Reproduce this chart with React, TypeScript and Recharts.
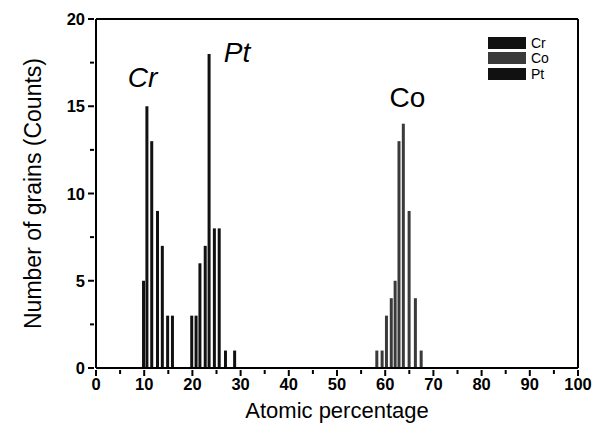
import React from 'react';
import { BarChart, Bar, XAxis, YAxis, ReferenceLine, ReferenceDot, Legend } from 'recharts';

const crPercent = [9.9, 10.6, 11.6, 12.8, 13.8, 14.9, 15.9];
const crCounts = [5, 15, 13, 9, 7, 3, 3];
const ptPercent = [19.9, 20.8, 21.6, 22.7, 23.5, 24.6, 25.6, 26.9, 28.8];
const ptCounts = [3, 3, 6, 7, 18, 8, 8, 1, 1];
const coPercent = [58.3, 59.4, 60.3, 61.3, 62.1, 62.9, 63.8, 65.0, 66.3, 67.5];
const coCounts = [1, 1, 3, 4, 5, 13, 14, 9, 4, 1];

const xTicks = [0, 5, 10, 15, 20, 25, 30, 35, 40, 45, 50, 55, 60, 65, 70, 75, 80, 85, 90, 95, 100];
const yTicks = [0, 2.5, 5, 7.5, 10, 12.5, 15, 17.5, 20];

const series = [
  { key: 'cr', name: 'Cr', color: '#111111' },
  { key: 'co', name: 'Co', color: '#3a3a3a' },
  { key: 'pt', name: 'Pt', color: '#111111' },
];

const data = [
  ...crPercent.map((x, i) => ({ x, cr: crCounts[i] })),
  ...ptPercent.map((x, i) => ({ x, pt: ptCounts[i] })),
  ...coPercent.map((x, i) => ({ x, co: coCounts[i] })),
].sort((a, b) => a.x - b.x);

const font = '"Liberation Sans", Arial, sans-serif';

const XTick = (props: any) => {
  const { x, y, payload } = props;
  const major = payload.value % 10 === 0;
  return (
    <g>
      <line x1={x} y1={y} x2={x} y2={y + (major ? 6 : 4)} stroke="#000" strokeWidth={2} />
      {major && (
        <text x={x} y={y + 20} textAnchor="middle" fontSize={16.5} fontWeight="bold" fontFamily={font} fill="#000">
          {payload.value}
        </text>
      )}
    </g>
  );
};

const YTick = (props: any) => {
  const { x, y, payload } = props;
  const major = payload.value % 5 === 0;
  return (
    <g>
      <line x1={x} y1={y} x2={x - (major ? 6 : 4)} y2={y} stroke="#000" strokeWidth={2} />
      {major && (
        <text x={x - 9} y={y + 6} textAnchor="end" fontSize={16.5} fontWeight="bold" fontFamily={font} fill="#000">
          {payload.value}
        </text>
      )}
    </g>
  );
};

const LegendBox = () => (
  <div style={{ fontFamily: font, fontSize: 14 }}>
    {series.map((s) => (
      <div key={s.key} style={{ display: 'flex', alignItems: 'center', height: 15.5 }}>
        <div style={{ width: 38, height: 12, background: s.color, marginRight: 5 }} />
        <span>{s.name}</span>
      </div>
    ))}
  </div>
);

const annotation = { fontSize: 28, fontFamily: font, fill: '#000' };

export default function App() {
  return (
    <div style={{ margin: '-8px 0 0 -8px', width: 608, height: 433, background: '#fff', position: 'relative' }}>
      <BarChart width={608} height={433} data={data} margin={{ top: 19, right: 30, bottom: 0, left: 0 }}>
        <XAxis
          dataKey="x"
          type="number"
          domain={[0, 100]}
          ticks={xTicks}
          interval={0}
          tick={<XTick />}
          tickLine={false}
          tickSize={0}
          axisLine={{ stroke: '#000', strokeWidth: 2 }}
          height={65}
          label={{ value: 'Atomic percentage', position: 'insideBottom', offset: 15, fontSize: 22, fontFamily: font, fill: '#000' }}
        />
        <YAxis
          type="number"
          domain={[0, 20]}
          ticks={yTicks}
          interval={0}
          tick={<YTick />}
          tickLine={false}
          tickSize={0}
          axisLine={{ stroke: '#000', strokeWidth: 2 }}
          width={96}
          label={{ value: 'Number of grains (Counts)', angle: -90, position: 'insideLeft', offset: 33, fontSize: 23, fontFamily: font, fill: '#000', style: { textAnchor: 'middle' } }}
        />
        <ReferenceLine y={20} stroke="#000" strokeWidth={2} />
        <ReferenceLine x={100} stroke="#000" strokeWidth={2} />
        {series.map((s) => (
          <Bar key={s.key} dataKey={s.key} name={s.name} stackId="a" fill={s.color} barSize={3} isAnimationActive={false} />
        ))}
        <ReferenceDot x={9.65} y={16.7} r={0} stroke="none" label={{ value: 'Cr', position: 'center', fontStyle: 'italic', ...annotation }} />
        <ReferenceDot x={29.25} y={18.1} r={0} stroke="none" label={{ value: 'Pt', position: 'center', fontStyle: 'italic', ...annotation }} />
        <ReferenceDot x={64.6} y={15.55} r={0} stroke="none" label={{ value: 'Co', position: 'center', ...annotation }} />
        <Legend
          layout="horizontal"
          verticalAlign="middle"
          align="center"
          content={<LegendBox />}
          wrapperStyle={{ position: 'absolute', top: 35, left: 488, width: 80, height: 50 }}
        />
      </BarChart>
    </div>
  );
}
